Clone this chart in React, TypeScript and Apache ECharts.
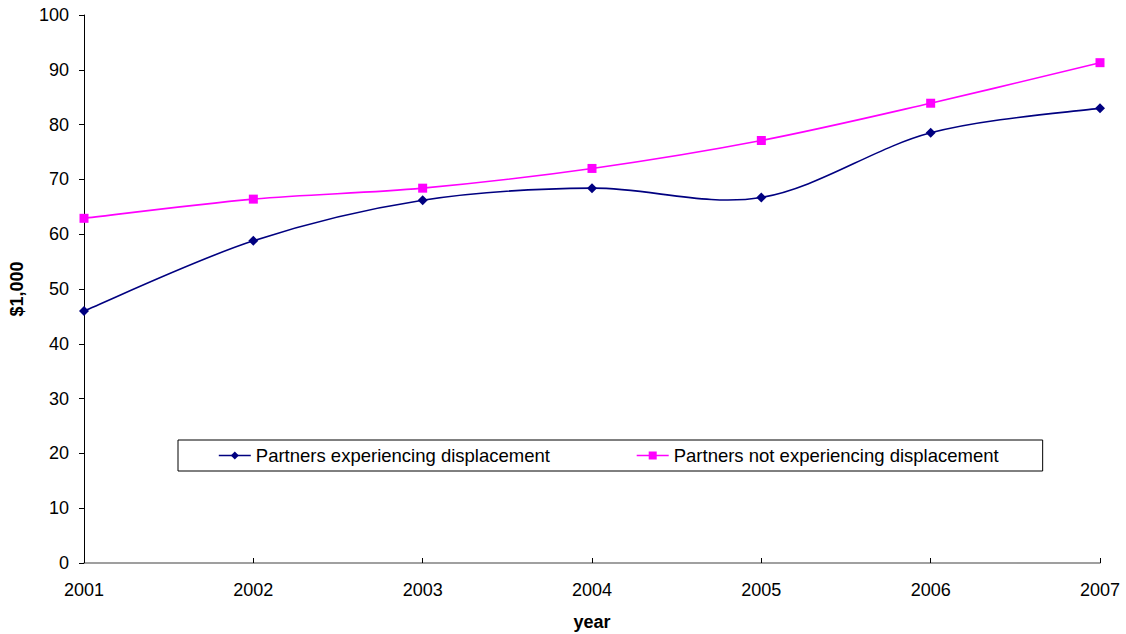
import React, { useEffect, useRef } from "react";
import * as echarts from "echarts";

const years = ["2001", "2002", "2003", "2004", "2005", "2006", "2007"];
const displaced = [46.0, 58.8, 66.2, 68.4, 66.7, 78.5, 83.0];
const notDisplaced = [62.9, 66.4, 68.4, 72.0, 77.1, 83.9, 91.3];
const seriesNames = [
  "Partners experiencing displacement",
  "Partners not experiencing displacement",
];
const colors = ["#000080", "#FF00FF"];

const FONT = "Liberation Sans, Arial, sans-serif";

// Draws segment i -> i+1 of a Catmull-Rom style smoothed curve (tension 1/6),
// with point positions taken from the chart's own axes.
function smoothSegment(values: number[], color: string) {
  return (params: any, api: any) => {
    const i = api.value(0);
    const n = values.length;
    if (i >= n - 1) return null;
    const pt = (j: number) => {
      const k = Math.max(0, Math.min(n - 1, j));
      return api.coord([k, values[k]]);
    };
    const p0 = pt(i - 1);
    const p1 = pt(i);
    const p2 = pt(i + 1);
    const p3 = pt(i + 2);
    const t = 1 / 6;
    return {
      type: "bezierCurve",
      shape: {
        x1: p1[0],
        y1: p1[1],
        x2: p2[0],
        y2: p2[1],
        cpx1: p1[0] + (p2[0] - p0[0]) * t,
        cpy1: p1[1] + (p2[1] - p0[1]) * t,
        cpx2: p2[0] - (p3[0] - p1[0]) * t,
        cpy2: p2[1] - (p3[1] - p1[1]) * t,
      },
      style: { stroke: color, lineWidth: 1.6, fill: null },
      silent: true,
    };
  };
}

export default function App() {
  const ref = useRef<HTMLDivElement>(null);

  useEffect(() => {
    if (!ref.current) return;
    const chart = echarts.init(ref.current, null, { renderer: "svg" });
    chart.setOption({
      animation: false,
      backgroundColor: "#ffffff",
      textStyle: { fontFamily: FONT },
      grid: {
        left: 84,
        right: 26,
        top: 15,
        bottom: 71,
        containLabel: false,
        outerBoundsMode: "none",
      },
      legend: {
        left: 178,
        top: 440,
        padding: [6, 44, 6, 40],
        itemGap: 86,
        itemWidth: 32,
        itemHeight: 10,
        borderColor: "#000",
        borderWidth: 1,
        borderRadius: 0,
        textStyle: { fontSize: 18.5, color: "#000", fontFamily: FONT },
        data: seriesNames.map((name, i) => ({
          name,
          lineStyle: { color: colors[i], width: 1.6, opacity: 1 },
          itemStyle: { color: colors[i] },
        })),
      },
      xAxis: {
        type: "category",
        data: years,
        boundaryGap: false,
        name: "year",
        nameLocation: "middle",
        nameGap: 50,
        nameTextStyle: { fontSize: 18, fontWeight: "bold", color: "#000", fontFamily: FONT },
        axisLine: { lineStyle: { color: "#808080", width: 1.5 } },
        axisTick: { inside: true, length: 5, lineStyle: { color: "#000" } },
        axisLabel: { fontSize: 18, color: "#000", margin: 18, fontFamily: FONT },
        splitLine: { show: false },
      },
      yAxis: {
        type: "value",
        min: 0,
        max: 100,
        interval: 10,
        name: "$1,000",
        nameLocation: "middle",
        nameGap: 58,
        nameRotate: 90,
        nameTextStyle: { fontSize: 18, fontWeight: "bold", color: "#000", fontFamily: FONT },
        axisLine: { show: true, lineStyle: { color: "#000", width: 1 } },
        axisTick: { show: true, length: 5, lineStyle: { color: "#000" } },
        axisLabel: { fontSize: 18, color: "#000", margin: 15, fontFamily: FONT },
        splitLine: { show: false },
      },
      series: [
        {
          type: "custom",
          name: "curve-0",
          data: displaced.map((v, i) => [i, v]),
          renderItem: smoothSegment(displaced, colors[0]),
          z: 1,
          silent: true,
        },
        {
          type: "custom",
          name: "curve-1",
          data: notDisplaced.map((v, i) => [i, v]),
          renderItem: smoothSegment(notDisplaced, colors[1]),
          z: 1,
          silent: true,
        },
        {
          name: seriesNames[0],
          type: "line",
          data: displaced,
          symbol: "diamond",
          symbolSize: 10,
          lineStyle: { color: colors[0], width: 1.6, opacity: 0 },
          itemStyle: { color: colors[0] },
          z: 3,
        },
        {
          name: seriesNames[1],
          type: "line",
          data: notDisplaced,
          symbol: "rect",
          symbolSize: 9,
          lineStyle: { color: colors[1], width: 1.6, opacity: 0 },
          itemStyle: { color: colors[1] },
          z: 3,
        },
      ],
    });
    return () => chart.dispose();
  }, []);

  return (
    <div
      ref={ref}
      style={{ position: "fixed", left: 0, top: 0, width: 1126, height: 634, background: "#fff" }}
    />
  );
}
